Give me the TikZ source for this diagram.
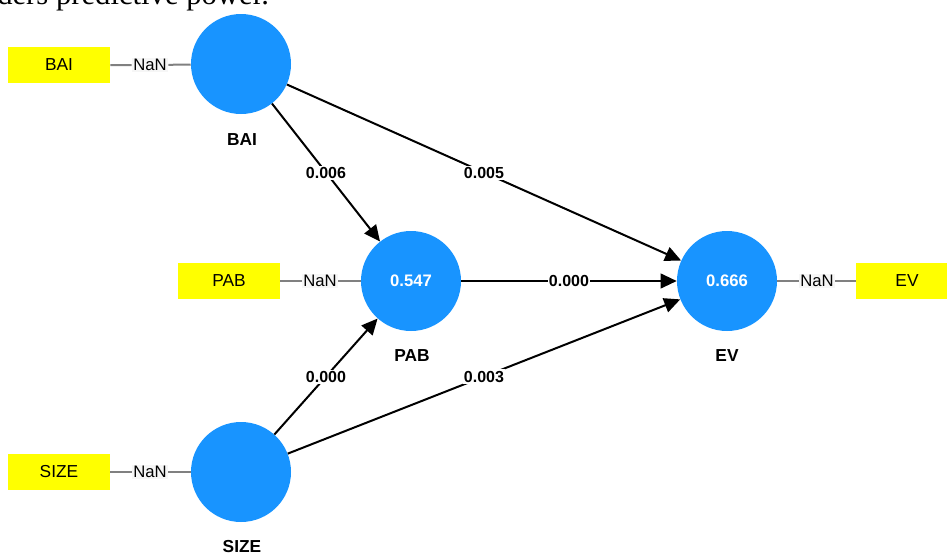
\documentclass[tikz,border=0pt]{standalone}
\usepackage{fontspec}
\setmainfont{Liberation Sans}
\newfontfamily\capfont{Liberation Serif}
\usetikzlibrary{arrows.meta}

\definecolor{lvblue}{RGB}{24,148,255}
\definecolor{indyellow}{RGB}{255,255,0}
\definecolor{nanbg}{RGB}{246,246,246}

\tikzset{
  latent/.style={circle, fill=lvblue, minimum size=75pt, inner sep=0pt,
    text=white, font=\bfseries\fontsize{12.5}{14}\selectfont},
  lvname/.style={font=\bfseries\fontsize{13}{15}\selectfont},
  indicator/.style={rectangle, fill=indyellow, minimum width=76.5pt,
    minimum height=27pt, inner sep=0pt, font=\fontsize{13}{15}\selectfont},
  nanlabel/.style={fill=nanbg, inner sep=1pt, font=\fontsize{12.5}{14}\selectfont},
  outer/.style={draw=gray, line width=1.5pt},
  pathline/.style={draw=black, line width=1.5pt, -{Triangle[length=12pt,width=11pt]}},
  coef/.style={fill=white, inner sep=1pt, font=\bfseries\fontsize{12}{14}\selectfont}
}

\begin{document}
\begin{tikzpicture}[x=0.75pt,y=-0.75pt]
  \useasboundingbox (0,0) rectangle (947,554);
  \clip (0,0) rectangle (947,554);

  % the cut caption line at the top
  \node[anchor=base west, inner sep=0pt, font=\capfont\fontsize{23}{26}\selectfont] (cap) at (-3,4) {ders predictive power.};

  % latent variables
  \node[latent] (bai) at (241,64) {};
  \node[latent] (pab) at (411,281) {0.547};
  \node[latent] (ev) at (727,281) {0.666};
  \node[latent] (size) at (241,472) {};

  % their names below
  \node[lvname] (bainame) at (242,140) {BAI};
  \node[lvname] (pabname) at (412,356) {PAB};
  \node[lvname] (evname) at (727,356) {EV};
  \node[lvname] (sizename) at (242,547) {SIZE};

  % indicators with their loadings
  \node[indicator] (baibox) at (59,65) {BAI};
  \node[nanlabel] (bainan) at (150,65) {NaN};
  \draw[outer] (baibox) -- (bainan) -- (bai);

  \node[indicator] (pabbox) at (229,281) {PAB};
  \node[nanlabel] (pabnan) at (320,281) {NaN};
  \draw[outer] (pabbox) -- (pabnan) -- (pab);

  \node[indicator] (evbox) at (907,281) {EV};
  \node[nanlabel] (evnan) at (817,281) {NaN};
  \draw[outer] (ev) -- (evnan) -- (evbox);

  \node[indicator] (sizebox) at (59,472) {SIZE};
  \node[nanlabel] (sizenan) at (150,472) {NaN};
  \draw[outer] (sizebox) -- (sizenan) -- (size);

  % structural paths
  \draw[pathline] (bai) -- node[coef] {0.006} (pab);
  \draw[pathline] (bai) -- node[coef] {0.005} (ev);
  \draw[pathline] (pab) -- node[coef] {0.000} (ev);
  \draw[pathline] (size) -- node[coef] {0.000} (pab);
  \draw[pathline] (size) -- node[coef] {0.003} (ev);
\end{tikzpicture}
\end{document}
